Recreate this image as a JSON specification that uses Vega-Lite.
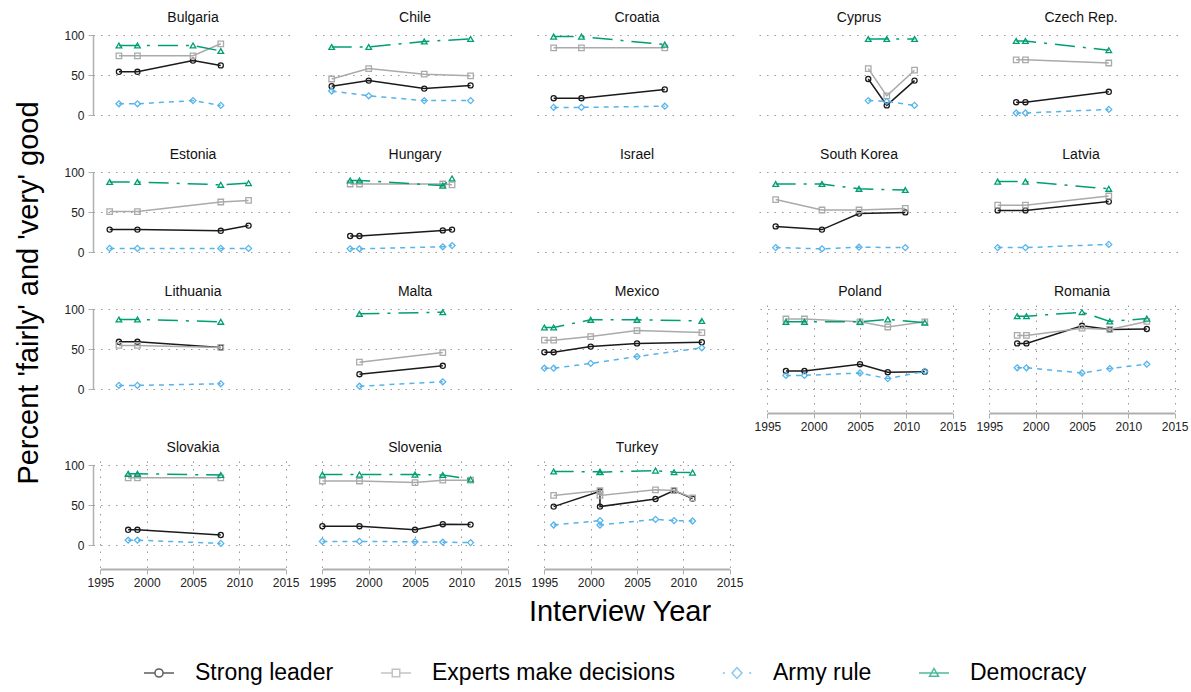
{
  "$schema": "https://vega.github.io/schema/vega-lite/v6.json",
  "background": "white",
  "padding": {"left": 14, "top": 11, "right": 5, "bottom": 5},
  "title": {"text": "Percent 'fairly' and 'very' good", "orient": "left", "anchor": "middle", "dx": 55, "fontSize": 29, "fontWeight": "normal", "font": "Liberation Sans", "color": "black", "offset": 20},
  "spacing": 9,
  "data": {"values": [
    {"country":"Bulgaria","series":"Strong leader","year":1997,"pct":54},
    {"country":"Bulgaria","series":"Strong leader","year":1999,"pct":54},
    {"country":"Bulgaria","series":"Strong leader","year":2005,"pct":68},
    {"country":"Bulgaria","series":"Strong leader","year":2008,"pct":62},
    {"country":"Bulgaria","series":"Experts make decisions","year":1997,"pct":74},
    {"country":"Bulgaria","series":"Experts make decisions","year":1999,"pct":74},
    {"country":"Bulgaria","series":"Experts make decisions","year":2005,"pct":74},
    {"country":"Bulgaria","series":"Experts make decisions","year":2008,"pct":89},
    {"country":"Bulgaria","series":"Army rule","year":1997,"pct":14},
    {"country":"Bulgaria","series":"Army rule","year":1999,"pct":14},
    {"country":"Bulgaria","series":"Army rule","year":2005,"pct":18},
    {"country":"Bulgaria","series":"Army rule","year":2008,"pct":12},
    {"country":"Bulgaria","series":"Democracy","year":1997,"pct":87},
    {"country":"Bulgaria","series":"Democracy","year":1999,"pct":87},
    {"country":"Bulgaria","series":"Democracy","year":2005,"pct":87},
    {"country":"Bulgaria","series":"Democracy","year":2008,"pct":80},
    {"country":"Chile","series":"Strong leader","year":1996,"pct":36},
    {"country":"Chile","series":"Strong leader","year":2000,"pct":43},
    {"country":"Chile","series":"Strong leader","year":2006,"pct":33},
    {"country":"Chile","series":"Strong leader","year":2011,"pct":37},
    {"country":"Chile","series":"Experts make decisions","year":1996,"pct":45},
    {"country":"Chile","series":"Experts make decisions","year":2000,"pct":58},
    {"country":"Chile","series":"Experts make decisions","year":2006,"pct":51},
    {"country":"Chile","series":"Experts make decisions","year":2011,"pct":49},
    {"country":"Chile","series":"Army rule","year":1996,"pct":30},
    {"country":"Chile","series":"Army rule","year":2000,"pct":24},
    {"country":"Chile","series":"Army rule","year":2006,"pct":18},
    {"country":"Chile","series":"Army rule","year":2011,"pct":18},
    {"country":"Chile","series":"Democracy","year":1996,"pct":85},
    {"country":"Chile","series":"Democracy","year":2000,"pct":85},
    {"country":"Chile","series":"Democracy","year":2006,"pct":92},
    {"country":"Chile","series":"Democracy","year":2011,"pct":95},
    {"country":"Croatia","series":"Strong leader","year":1996,"pct":21},
    {"country":"Croatia","series":"Strong leader","year":1999,"pct":21},
    {"country":"Croatia","series":"Strong leader","year":2008,"pct":32},
    {"country":"Croatia","series":"Experts make decisions","year":1996,"pct":84},
    {"country":"Croatia","series":"Experts make decisions","year":1999,"pct":84},
    {"country":"Croatia","series":"Experts make decisions","year":2008,"pct":84},
    {"country":"Croatia","series":"Army rule","year":1996,"pct":9.5},
    {"country":"Croatia","series":"Army rule","year":1999,"pct":9.5},
    {"country":"Croatia","series":"Army rule","year":2008,"pct":11},
    {"country":"Croatia","series":"Democracy","year":1996,"pct":98},
    {"country":"Croatia","series":"Democracy","year":1999,"pct":98},
    {"country":"Croatia","series":"Democracy","year":2008,"pct":88},
    {"country":"Cyprus","series":"Strong leader","year":2006,"pct":45},
    {"country":"Cyprus","series":"Strong leader","year":2008,"pct":12},
    {"country":"Cyprus","series":"Strong leader","year":2011,"pct":43},
    {"country":"Cyprus","series":"Experts make decisions","year":2006,"pct":58},
    {"country":"Cyprus","series":"Experts make decisions","year":2008,"pct":24},
    {"country":"Cyprus","series":"Experts make decisions","year":2011,"pct":56},
    {"country":"Cyprus","series":"Army rule","year":2006,"pct":18},
    {"country":"Cyprus","series":"Army rule","year":2008,"pct":17},
    {"country":"Cyprus","series":"Army rule","year":2011,"pct":12},
    {"country":"Cyprus","series":"Democracy","year":2006,"pct":95},
    {"country":"Cyprus","series":"Democracy","year":2008,"pct":95},
    {"country":"Cyprus","series":"Democracy","year":2011,"pct":95},
    {"country":"Czech Rep.","series":"Strong leader","year":1998,"pct":16},
    {"country":"Czech Rep.","series":"Strong leader","year":1999,"pct":16},
    {"country":"Czech Rep.","series":"Strong leader","year":2008,"pct":29},
    {"country":"Czech Rep.","series":"Experts make decisions","year":1998,"pct":69},
    {"country":"Czech Rep.","series":"Experts make decisions","year":1999,"pct":69},
    {"country":"Czech Rep.","series":"Experts make decisions","year":2008,"pct":65},
    {"country":"Czech Rep.","series":"Army rule","year":1998,"pct":2.5},
    {"country":"Czech Rep.","series":"Army rule","year":1999,"pct":2.5},
    {"country":"Czech Rep.","series":"Army rule","year":2008,"pct":7},
    {"country":"Czech Rep.","series":"Democracy","year":1998,"pct":92.5},
    {"country":"Czech Rep.","series":"Democracy","year":1999,"pct":92.5},
    {"country":"Czech Rep.","series":"Democracy","year":2008,"pct":81},
    {"country":"Estonia","series":"Strong leader","year":1996,"pct":28},
    {"country":"Estonia","series":"Strong leader","year":1999,"pct":28},
    {"country":"Estonia","series":"Strong leader","year":2008,"pct":26.5},
    {"country":"Estonia","series":"Strong leader","year":2011,"pct":33},
    {"country":"Estonia","series":"Experts make decisions","year":1996,"pct":50.5},
    {"country":"Estonia","series":"Experts make decisions","year":1999,"pct":50.5},
    {"country":"Estonia","series":"Experts make decisions","year":2008,"pct":62.5},
    {"country":"Estonia","series":"Experts make decisions","year":2011,"pct":64.5},
    {"country":"Estonia","series":"Army rule","year":1996,"pct":4.5},
    {"country":"Estonia","series":"Army rule","year":1999,"pct":4.5},
    {"country":"Estonia","series":"Army rule","year":2008,"pct":4.5},
    {"country":"Estonia","series":"Army rule","year":2011,"pct":4.5},
    {"country":"Estonia","series":"Democracy","year":1996,"pct":87.5},
    {"country":"Estonia","series":"Democracy","year":1999,"pct":87.5},
    {"country":"Estonia","series":"Democracy","year":2008,"pct":84},
    {"country":"Estonia","series":"Democracy","year":2011,"pct":86},
    {"country":"Hungary","series":"Strong leader","year":1998,"pct":20},
    {"country":"Hungary","series":"Strong leader","year":1999,"pct":20},
    {"country":"Hungary","series":"Strong leader","year":2008,"pct":27},
    {"country":"Hungary","series":"Strong leader","year":2009,"pct":28},
    {"country":"Hungary","series":"Experts make decisions","year":1998,"pct":85},
    {"country":"Hungary","series":"Experts make decisions","year":1999,"pct":85},
    {"country":"Hungary","series":"Experts make decisions","year":2008,"pct":85},
    {"country":"Hungary","series":"Experts make decisions","year":2009,"pct":84},
    {"country":"Hungary","series":"Army rule","year":1998,"pct":4},
    {"country":"Hungary","series":"Army rule","year":1999,"pct":4},
    {"country":"Hungary","series":"Army rule","year":2008,"pct":6.5},
    {"country":"Hungary","series":"Army rule","year":2009,"pct":8},
    {"country":"Hungary","series":"Democracy","year":1998,"pct":89.5},
    {"country":"Hungary","series":"Democracy","year":1999,"pct":89.5},
    {"country":"Hungary","series":"Democracy","year":2008,"pct":83},
    {"country":"Hungary","series":"Democracy","year":2009,"pct":92},
    {"country":"Israel","series":"Democracy","year":null,"pct":null},
    {"country":"South Korea","series":"Strong leader","year":1996,"pct":32},
    {"country":"South Korea","series":"Strong leader","year":2001,"pct":28},
    {"country":"South Korea","series":"Strong leader","year":2005,"pct":48},
    {"country":"South Korea","series":"Strong leader","year":2010,"pct":49.5},
    {"country":"South Korea","series":"Experts make decisions","year":1996,"pct":65.5},
    {"country":"South Korea","series":"Experts make decisions","year":2001,"pct":52.5},
    {"country":"South Korea","series":"Experts make decisions","year":2005,"pct":52.5},
    {"country":"South Korea","series":"Experts make decisions","year":2010,"pct":54.5},
    {"country":"South Korea","series":"Army rule","year":1996,"pct":5.5},
    {"country":"South Korea","series":"Army rule","year":2001,"pct":4},
    {"country":"South Korea","series":"Army rule","year":2005,"pct":6},
    {"country":"South Korea","series":"Army rule","year":2010,"pct":5.5},
    {"country":"South Korea","series":"Democracy","year":1996,"pct":85},
    {"country":"South Korea","series":"Democracy","year":2001,"pct":85},
    {"country":"South Korea","series":"Democracy","year":2005,"pct":79},
    {"country":"South Korea","series":"Democracy","year":2010,"pct":77.5},
    {"country":"Latvia","series":"Strong leader","year":1996,"pct":52},
    {"country":"Latvia","series":"Strong leader","year":1999,"pct":52},
    {"country":"Latvia","series":"Strong leader","year":2008,"pct":63},
    {"country":"Latvia","series":"Experts make decisions","year":1996,"pct":58.5},
    {"country":"Latvia","series":"Experts make decisions","year":1999,"pct":58.5},
    {"country":"Latvia","series":"Experts make decisions","year":2008,"pct":70},
    {"country":"Latvia","series":"Army rule","year":1996,"pct":5.5},
    {"country":"Latvia","series":"Army rule","year":1999,"pct":5.5},
    {"country":"Latvia","series":"Army rule","year":2008,"pct":9.5},
    {"country":"Latvia","series":"Democracy","year":1996,"pct":88},
    {"country":"Latvia","series":"Democracy","year":1999,"pct":88},
    {"country":"Latvia","series":"Democracy","year":2008,"pct":79},
    {"country":"Lithuania","series":"Strong leader","year":1997,"pct":59},
    {"country":"Lithuania","series":"Strong leader","year":1999,"pct":59},
    {"country":"Lithuania","series":"Strong leader","year":2008,"pct":52},
    {"country":"Lithuania","series":"Experts make decisions","year":1997,"pct":54.5},
    {"country":"Lithuania","series":"Experts make decisions","year":1999,"pct":54.5},
    {"country":"Lithuania","series":"Experts make decisions","year":2008,"pct":52},
    {"country":"Lithuania","series":"Army rule","year":1997,"pct":4.5},
    {"country":"Lithuania","series":"Army rule","year":1999,"pct":4.5},
    {"country":"Lithuania","series":"Army rule","year":2008,"pct":6.5},
    {"country":"Lithuania","series":"Democracy","year":1997,"pct":87},
    {"country":"Lithuania","series":"Democracy","year":1999,"pct":87},
    {"country":"Lithuania","series":"Democracy","year":2008,"pct":84},
    {"country":"Malta","series":"Strong leader","year":1999,"pct":18.5},
    {"country":"Malta","series":"Strong leader","year":2008,"pct":29},
    {"country":"Malta","series":"Experts make decisions","year":1999,"pct":33.5},
    {"country":"Malta","series":"Experts make decisions","year":2008,"pct":45.5},
    {"country":"Malta","series":"Army rule","year":1999,"pct":3.5},
    {"country":"Malta","series":"Army rule","year":2008,"pct":9},
    {"country":"Malta","series":"Democracy","year":1999,"pct":94},
    {"country":"Malta","series":"Democracy","year":2008,"pct":96},
    {"country":"Mexico","series":"Strong leader","year":1995,"pct":46},
    {"country":"Mexico","series":"Strong leader","year":1996,"pct":46},
    {"country":"Mexico","series":"Strong leader","year":2000,"pct":53},
    {"country":"Mexico","series":"Strong leader","year":2005,"pct":57},
    {"country":"Mexico","series":"Strong leader","year":2012,"pct":58.5},
    {"country":"Mexico","series":"Experts make decisions","year":1995,"pct":61},
    {"country":"Mexico","series":"Experts make decisions","year":1996,"pct":61},
    {"country":"Mexico","series":"Experts make decisions","year":2000,"pct":65.5},
    {"country":"Mexico","series":"Experts make decisions","year":2005,"pct":73},
    {"country":"Mexico","series":"Experts make decisions","year":2012,"pct":70.5},
    {"country":"Mexico","series":"Army rule","year":1995,"pct":26},
    {"country":"Mexico","series":"Army rule","year":1996,"pct":26},
    {"country":"Mexico","series":"Army rule","year":2000,"pct":32},
    {"country":"Mexico","series":"Army rule","year":2005,"pct":40.5},
    {"country":"Mexico","series":"Army rule","year":2012,"pct":51.5},
    {"country":"Mexico","series":"Democracy","year":1995,"pct":77},
    {"country":"Mexico","series":"Democracy","year":1996,"pct":77},
    {"country":"Mexico","series":"Democracy","year":2000,"pct":86.5},
    {"country":"Mexico","series":"Democracy","year":2005,"pct":86.5},
    {"country":"Mexico","series":"Democracy","year":2012,"pct":85},
    {"country":"Poland","series":"Strong leader","year":1997,"pct":22.5},
    {"country":"Poland","series":"Strong leader","year":1999,"pct":22.5},
    {"country":"Poland","series":"Strong leader","year":2005,"pct":31},
    {"country":"Poland","series":"Strong leader","year":2008,"pct":21},
    {"country":"Poland","series":"Strong leader","year":2012,"pct":21.5},
    {"country":"Poland","series":"Experts make decisions","year":1997,"pct":87.5},
    {"country":"Poland","series":"Experts make decisions","year":1999,"pct":87.5},
    {"country":"Poland","series":"Experts make decisions","year":2005,"pct":84},
    {"country":"Poland","series":"Experts make decisions","year":2008,"pct":77.5},
    {"country":"Poland","series":"Experts make decisions","year":2012,"pct":84},
    {"country":"Poland","series":"Army rule","year":1997,"pct":17},
    {"country":"Poland","series":"Army rule","year":1999,"pct":17},
    {"country":"Poland","series":"Army rule","year":2005,"pct":20},
    {"country":"Poland","series":"Army rule","year":2008,"pct":13},
    {"country":"Poland","series":"Army rule","year":2012,"pct":22},
    {"country":"Poland","series":"Democracy","year":1997,"pct":84},
    {"country":"Poland","series":"Democracy","year":1999,"pct":84},
    {"country":"Poland","series":"Democracy","year":2005,"pct":84},
    {"country":"Poland","series":"Democracy","year":2008,"pct":87},
    {"country":"Poland","series":"Democracy","year":2012,"pct":83},
    {"country":"Romania","series":"Strong leader","year":1998,"pct":57},
    {"country":"Romania","series":"Strong leader","year":1999,"pct":57},
    {"country":"Romania","series":"Strong leader","year":2005,"pct":79},
    {"country":"Romania","series":"Strong leader","year":2008,"pct":74.5},
    {"country":"Romania","series":"Strong leader","year":2012,"pct":75},
    {"country":"Romania","series":"Experts make decisions","year":1998,"pct":67},
    {"country":"Romania","series":"Experts make decisions","year":1999,"pct":67},
    {"country":"Romania","series":"Experts make decisions","year":2005,"pct":76},
    {"country":"Romania","series":"Experts make decisions","year":2008,"pct":74.5},
    {"country":"Romania","series":"Experts make decisions","year":2012,"pct":84.5},
    {"country":"Romania","series":"Army rule","year":1998,"pct":26.5},
    {"country":"Romania","series":"Army rule","year":1999,"pct":26.5},
    {"country":"Romania","series":"Army rule","year":2005,"pct":20},
    {"country":"Romania","series":"Army rule","year":2008,"pct":25.5},
    {"country":"Romania","series":"Army rule","year":2012,"pct":31},
    {"country":"Romania","series":"Democracy","year":1998,"pct":91},
    {"country":"Romania","series":"Democracy","year":1999,"pct":91},
    {"country":"Romania","series":"Democracy","year":2005,"pct":96},
    {"country":"Romania","series":"Democracy","year":2008,"pct":84.5},
    {"country":"Romania","series":"Democracy","year":2012,"pct":88},
    {"country":"Slovakia","series":"Strong leader","year":1998,"pct":19},
    {"country":"Slovakia","series":"Strong leader","year":1999,"pct":19},
    {"country":"Slovakia","series":"Strong leader","year":2008,"pct":12.5},
    {"country":"Slovakia","series":"Experts make decisions","year":1998,"pct":84},
    {"country":"Slovakia","series":"Experts make decisions","year":1999,"pct":84},
    {"country":"Slovakia","series":"Experts make decisions","year":2008,"pct":84},
    {"country":"Slovakia","series":"Army rule","year":1998,"pct":6},
    {"country":"Slovakia","series":"Army rule","year":1999,"pct":6},
    {"country":"Slovakia","series":"Army rule","year":2008,"pct":2},
    {"country":"Slovakia","series":"Democracy","year":1998,"pct":89},
    {"country":"Slovakia","series":"Democracy","year":1999,"pct":89},
    {"country":"Slovakia","series":"Democracy","year":2008,"pct":87.5},
    {"country":"Slovenia","series":"Strong leader","year":1995,"pct":23.5},
    {"country":"Slovenia","series":"Strong leader","year":1999,"pct":23.5},
    {"country":"Slovenia","series":"Strong leader","year":2005,"pct":19},
    {"country":"Slovenia","series":"Strong leader","year":2008,"pct":26},
    {"country":"Slovenia","series":"Strong leader","year":2011,"pct":25.5},
    {"country":"Slovenia","series":"Experts make decisions","year":1995,"pct":80},
    {"country":"Slovenia","series":"Experts make decisions","year":1999,"pct":80},
    {"country":"Slovenia","series":"Experts make decisions","year":2005,"pct":78},
    {"country":"Slovenia","series":"Experts make decisions","year":2008,"pct":81},
    {"country":"Slovenia","series":"Experts make decisions","year":2011,"pct":81},
    {"country":"Slovenia","series":"Army rule","year":1995,"pct":4.5},
    {"country":"Slovenia","series":"Army rule","year":1999,"pct":4.5},
    {"country":"Slovenia","series":"Army rule","year":2005,"pct":4},
    {"country":"Slovenia","series":"Army rule","year":2008,"pct":3.5},
    {"country":"Slovenia","series":"Army rule","year":2011,"pct":3},
    {"country":"Slovenia","series":"Democracy","year":1995,"pct":88},
    {"country":"Slovenia","series":"Democracy","year":1999,"pct":88},
    {"country":"Slovenia","series":"Democracy","year":2005,"pct":88},
    {"country":"Slovenia","series":"Democracy","year":2008,"pct":87.5},
    {"country":"Slovenia","series":"Democracy","year":2011,"pct":82},
    {"country":"Turkey","series":"Strong leader","year":1996,"pct":48},
    {"country":"Turkey","series":"Strong leader","year":2001,"pct":67},
    {"country":"Turkey","series":"Strong leader","year":2001,"pct":48},
    {"country":"Turkey","series":"Strong leader","year":2007,"pct":57.5},
    {"country":"Turkey","series":"Strong leader","year":2009,"pct":68},
    {"country":"Turkey","series":"Strong leader","year":2011,"pct":58},
    {"country":"Turkey","series":"Experts make decisions","year":1996,"pct":62},
    {"country":"Turkey","series":"Experts make decisions","year":2001,"pct":68},
    {"country":"Turkey","series":"Experts make decisions","year":2001,"pct":62},
    {"country":"Turkey","series":"Experts make decisions","year":2007,"pct":69},
    {"country":"Turkey","series":"Experts make decisions","year":2009,"pct":68},
    {"country":"Turkey","series":"Experts make decisions","year":2011,"pct":59},
    {"country":"Turkey","series":"Army rule","year":1996,"pct":25},
    {"country":"Turkey","series":"Army rule","year":2001,"pct":30.5},
    {"country":"Turkey","series":"Army rule","year":2001,"pct":25},
    {"country":"Turkey","series":"Army rule","year":2007,"pct":32},
    {"country":"Turkey","series":"Army rule","year":2009,"pct":30.5},
    {"country":"Turkey","series":"Army rule","year":2011,"pct":30},
    {"country":"Turkey","series":"Democracy","year":1996,"pct":92},
    {"country":"Turkey","series":"Democracy","year":2001,"pct":91.5},
    {"country":"Turkey","series":"Democracy","year":2001,"pct":91},
    {"country":"Turkey","series":"Democracy","year":2007,"pct":93},
    {"country":"Turkey","series":"Democracy","year":2009,"pct":91},
    {"country":"Turkey","series":"Democracy","year":2011,"pct":90.5}
  ]},
  "vconcat": [
    {
      "transform": [{"filter": {"field": "country", "oneOf": ["Bulgaria","Chile","Croatia","Cyprus","Czech Rep.","Estonia","Hungary","Israel","South Korea","Latvia"]}}],
      "columns": 5,
      "spacing": {"row": 9, "column": 22},
      "facet": {"field": "country", "type": "nominal", "title": null, "sort": ["Bulgaria","Chile","Croatia","Cyprus","Czech Rep.","Estonia","Hungary","Israel","South Korea","Latvia"]},
      "spec": {
        "width": 200, "height": 108,
        "encoding": {
          "x": {"field": "year", "type": "quantitative", "scale": {"domain": [1994.2, 2015.8], "nice": false, "zero": false}, "axis": null},
          "y": {"field": "pct", "type": "quantitative", "scale": {"domain": [-30, 105], "nice": false, "zero": false}},
          "order": {"value": null}
        },
        "layer": [
          {"transform": [{"filter": "datum.series === 'Strong leader'"}], "mark": {"type": "line", "color": "#1a1a1a", "strokeWidth": 1.5, "point": {"shape": "circle", "filled": false, "size": 26, "strokeWidth": 1.3, "color": "#1a1a1a"}}},
          {"transform": [{"filter": "datum.series === 'Experts make decisions'"}], "mark": {"type": "line", "color": "#aaaaaa", "strokeWidth": 1.5, "point": {"shape": "square", "filled": false, "size": 30, "strokeWidth": 1.3, "color": "#aaaaaa"}}},
          {"transform": [{"filter": "datum.series === 'Army rule'"}], "mark": {"type": "line", "color": "#56B4E9", "strokeWidth": 1.5, "strokeDash": [5, 5], "point": {"shape": "diamond", "filled": false, "size": 36, "strokeWidth": 1.3, "color": "#56B4E9"}}},
          {"transform": [{"filter": "datum.series === 'Democracy'"}], "mark": {"type": "line", "color": "#009E73", "strokeWidth": 1.5, "strokeDash": [20, 8, 3, 8], "point": {"shape": "triangle-up", "filled": false, "size": 32, "strokeWidth": 1.3, "color": "#009E73"}}}
        ]
      }
    },
    {
      "spacing": 17,
      "hconcat": [
        {
          "transform": [{"filter": {"field": "country", "oneOf": ["Lithuania","Malta","Mexico"]}}],
          "columns": 3,
          "spacing": {"row": 9, "column": 22},
          "facet": {"field": "country", "type": "nominal", "title": null, "sort": ["Lithuania","Malta","Mexico"]},
          "spec": {
            "width": 200, "height": 108,
            "encoding": {
              "x": {"field": "year", "type": "quantitative", "scale": {"domain": [1994.2, 2015.8], "nice": false, "zero": false}, "axis": null},
              "y": {"field": "pct", "type": "quantitative", "scale": {"domain": [-30, 105], "nice": false, "zero": false}},
              "order": {"value": null}
            },
            "layer": [
              {"transform": [{"filter": "datum.series === 'Strong leader'"}], "mark": {"type": "line", "color": "#1a1a1a", "strokeWidth": 1.5, "point": {"shape": "circle", "filled": false, "size": 26, "strokeWidth": 1.3, "color": "#1a1a1a"}}},
              {"transform": [{"filter": "datum.series === 'Experts make decisions'"}], "mark": {"type": "line", "color": "#aaaaaa", "strokeWidth": 1.5, "point": {"shape": "square", "filled": false, "size": 30, "strokeWidth": 1.3, "color": "#aaaaaa"}}},
              {"transform": [{"filter": "datum.series === 'Army rule'"}], "mark": {"type": "line", "color": "#56B4E9", "strokeWidth": 1.5, "strokeDash": [5, 5], "point": {"shape": "diamond", "filled": false, "size": 36, "strokeWidth": 1.3, "color": "#56B4E9"}}},
              {"transform": [{"filter": "datum.series === 'Democracy'"}], "mark": {"type": "line", "color": "#009E73", "strokeWidth": 1.5, "strokeDash": [20, 8, 3, 8], "point": {"shape": "triangle-up", "filled": false, "size": 32, "strokeWidth": 1.3, "color": "#009E73"}}}
            ]
          }
        },
        {
          "transform": [{"filter": {"field": "country", "oneOf": ["Poland","Romania"]}}],
          "columns": 2,
          "spacing": {"row": 9, "column": 22},
          "facet": {"field": "country", "type": "nominal", "title": null, "sort": ["Poland","Romania"]},
          "spec": {
            "width": 200, "height": 108,
            "encoding": {
              "x": {"field": "year", "type": "quantitative", "scale": {"domain": [1994.2, 2015.8], "nice": false, "zero": false}},
              "y": {"field": "pct", "type": "quantitative", "scale": {"domain": [-30, 105], "nice": false, "zero": false}, "axis": {"labels": false, "ticks": false, "domain": false, "grid": true}},
              "order": {"value": null}
            },
            "layer": [
              {"transform": [{"filter": "datum.series === 'Strong leader'"}], "mark": {"type": "line", "color": "#1a1a1a", "strokeWidth": 1.5, "point": {"shape": "circle", "filled": false, "size": 26, "strokeWidth": 1.3, "color": "#1a1a1a"}}},
              {"transform": [{"filter": "datum.series === 'Experts make decisions'"}], "mark": {"type": "line", "color": "#aaaaaa", "strokeWidth": 1.5, "point": {"shape": "square", "filled": false, "size": 30, "strokeWidth": 1.3, "color": "#aaaaaa"}}},
              {"transform": [{"filter": "datum.series === 'Army rule'"}], "mark": {"type": "line", "color": "#56B4E9", "strokeWidth": 1.5, "strokeDash": [5, 5], "point": {"shape": "diamond", "filled": false, "size": 36, "strokeWidth": 1.3, "color": "#56B4E9"}}},
              {"transform": [{"filter": "datum.series === 'Democracy'"}], "mark": {"type": "line", "color": "#009E73", "strokeWidth": 1.5, "strokeDash": [20, 8, 3, 8], "point": {"shape": "triangle-up", "filled": false, "size": 32, "strokeWidth": 1.3, "color": "#009E73"}}}
            ]
          }
        }
      ]
    },
    {
      "transform": [{"filter": {"field": "country", "oneOf": ["Slovakia","Slovenia","Turkey"]}}],
      "columns": 3,
      "spacing": {"row": 9, "column": 22},
      "title": {"text": "Interview Year", "orient": "bottom", "anchor": "middle", "frame": "group", "dx": 527, "offset": 10, "fontSize": 29, "fontWeight": "normal", "font": "Liberation Sans", "color": "black"},
      "facet": {"field": "country", "type": "nominal", "title": null, "sort": ["Slovakia","Slovenia","Turkey"]},
      "spec": {
        "width": 200, "height": 108,
        "encoding": {
          "x": {"field": "year", "type": "quantitative", "scale": {"domain": [1994.2, 2015.8], "nice": false, "zero": false}},
          "y": {"field": "pct", "type": "quantitative", "scale": {"domain": [-30, 105], "nice": false, "zero": false}},
          "order": {"value": null}
        },
        "layer": [
          {"transform": [{"filter": "datum.series === 'Strong leader'"}], "mark": {"type": "line", "color": "#1a1a1a", "strokeWidth": 1.5, "point": {"shape": "circle", "filled": false, "size": 26, "strokeWidth": 1.3, "color": "#1a1a1a"}}},
          {"transform": [{"filter": "datum.series === 'Experts make decisions'"}], "mark": {"type": "line", "color": "#aaaaaa", "strokeWidth": 1.5, "point": {"shape": "square", "filled": false, "size": 30, "strokeWidth": 1.3, "color": "#aaaaaa"}}},
          {"transform": [{"filter": "datum.series === 'Army rule'"}], "mark": {"type": "line", "color": "#56B4E9", "strokeWidth": 1.5, "strokeDash": [5, 5], "point": {"shape": "diamond", "filled": false, "size": 36, "strokeWidth": 1.3, "color": "#56B4E9"}}},
          {"transform": [{"filter": "datum.series === 'Democracy'"}], "mark": {"type": "line", "color": "#009E73", "strokeWidth": 1.5, "strokeDash": [20, 8, 3, 8], "point": {"shape": "triangle-up", "filled": false, "size": 32, "strokeWidth": 1.3, "color": "#009E73"}}},
          {
            "transform": [{"filter": "false"}],
            "mark": {"type": "point", "filled": false},
            "encoding": {
              "color": {"field": "series", "type": "nominal", "scale": {"domain": ["Strong leader","Experts make decisions","Army rule","Democracy"], "range": ["#1a1a1a","#aaaaaa","#56B4E9","#009E73"]}, "legend": {"orient": "none", "direction": "horizontal", "title": null, "legendX": 50, "legendY": 626}},
              "shape": {"field": "series", "type": "nominal", "scale": {"domain": ["Strong leader","Experts make decisions","Army rule","Democracy"], "range": [
                "M-1,0H-0.27M0.27,0H1M-0.27,0A0.27,0.27 0 1,1 0.27,0A0.27,0.27 0 1,1 -0.27,0Z",
                "M-1,0H-0.25M0.25,0H1M-0.25,-0.25H0.25V0.25H-0.25Z",
                "M-0.95,0H-0.8M0.8,0H0.95M-0.33,0L0,-0.36L0.33,0L0,0.36Z",
                "M-1,0H1M-0.3,0.22L0,-0.3L0.3,0.22Z"
              ]}, "legend": {"orient": "none", "direction": "horizontal", "title": null, "legendX": 50, "legendY": 626}}
            }
          }
        ]
      }
    }
  ],
  "config": {
    "view": {"stroke": null},
    "font": "Liberation Sans",
    "header": {"labelFontSize": 14, "labelFont": "Liberation Sans", "labelColor": "#111", "labelPadding": 6},
    "axisX": {"values": [1995, 2000, 2005, 2010, 2015], "format": "d", "title": null, "domainDash": [0, 7.4, 185, 400], "domainColor": "#b0b0b0", "domainWidth": 2, "tickColor": "#b0b0b0", "tickSize": 5, "labelFontSize": 12, "labelColor": "#222", "labelFont": "Liberation Sans", "labelPadding": 3, "gridDash": [1.5, 6], "gridColor": "#999", "gridWidth": 1},
    "axisY": {"values": [0, 25, 50, 75, 100], "title": null, "domainDash": [0, 24, 80, 400], "domainColor": "#b0b0b0", "domainWidth": 1.5, "tickColor": "#b0b0b0", "tickSize": 5, "labelFontSize": 12, "labelColor": "#222", "labelFont": "Liberation Sans", "labelPadding": 4, "gridDash": [1.5, 6], "gridColor": "#999", "gridWidth": 1},
    "legend": {"labelFontSize": 23, "labelFont": "Liberation Sans", "labelColor": "black", "symbolSize": 900, "symbolStrokeWidth": 1.5, "labelOffset": 20, "columnPadding": 44, "labelLimit": 400}
  }
}
